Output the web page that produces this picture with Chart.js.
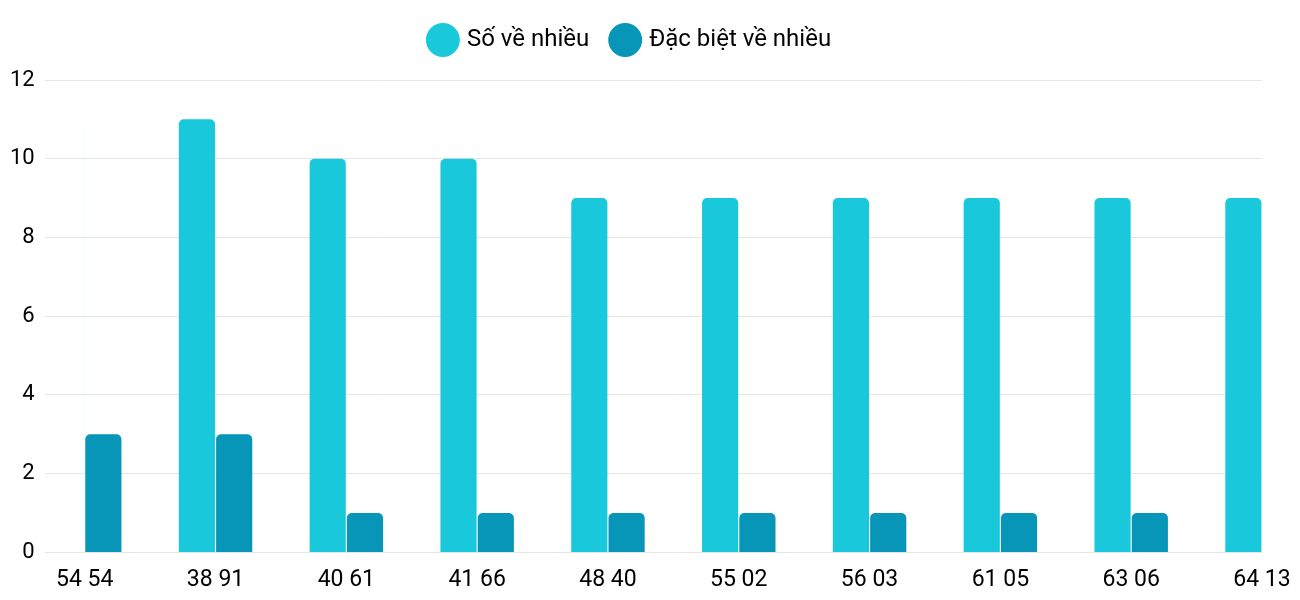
<!DOCTYPE html>
<html>
<head>
<meta charset="utf-8">
<script src="https://cdn.jsdelivr.net/npm/chart.js@4/dist/chart.umd.min.js"></script>
<style>
  html, body { margin: 0; padding: 0; background: #fff; }
  #wrap { width: 1300px; height: 600px; }
</style>
</head>
<body>
<div id="wrap"><canvas id="chart"></canvas></div>
<script>
const labels = ['54 54', '38 91', '40 61', '41 66', '48 40', '55 02', '56 03', '61 05', '63 06', '64 13'];
const soVeNhieu = [11, 11, 10, 10, 9, 9, 9, 9, 9, 9];
const dacBietVeNhieu = [3, 3, 1, 1, 1, 1, 1, 1, 1, 1];

Chart.defaults.font.family = 'Roboto';
Chart.defaults.color = '#000';

// stretch the legend block a bit so the plot starts lower
const legendGap = {
    id: 'legendGap',
    beforeInit(chart) {
        const fit = chart.legend.fit;
        chart.legend.fit = function () {
            fit.bind(chart.legend)();
            this.height += 18;
        };
    }
};

new Chart(document.getElementById('chart').getContext('2d'), {
    type: 'bar',
    data: {
        labels: labels,
        datasets: [{
            label: 'Số về nhiều',
            data: soVeNhieu,
            backgroundColor: '#1ac8db',
            borderRadius: { topLeft: 5, topRight: 5 },
            borderSkipped: 'bottom'
        }, {
            label: 'Đặc biệt về nhiều',
            data: dacBietVeNhieu,
            backgroundColor: '#0795b8',
            borderRadius: { topLeft: 5, topRight: 5 },
            borderSkipped: 'bottom'
        }]
    },
    plugins: [legendGap],
    options: {
        responsive: true,
        maintainAspectRatio: false,
        animation: false,
        layout: { padding: { top: 4, right: 38, left: 0, bottom: 0 } },
        datasets: { bar: { categoryPercentage: 0.57, barPercentage: 0.97 } },
        plugins: {
            legend: {
                labels: {
                    usePointStyle: true,
                    pointStyle: 'circle',
                    boxWidth: 26,
                    boxHeight: 26,
                    padding: 24,
                    font: { size: 24 }
                }
            },
            tooltip: { enabled: false }
        },
        scales: {
            x: {
                offset: false,
                grid: { display: false },
                border: { display: false },
                ticks: { font: { size: 23 }, maxRotation: 0, padding: 6 }
            },
            y: {
                min: 0,
                max: 12,
                ticks: { stepSize: 2, font: { size: 22 }, padding: 10 },
                grid: { color: '#e6e6e6', tickLength: 40 },
                border: { display: false }
            }
        }
    }
});
</script>
</body>
</html>
